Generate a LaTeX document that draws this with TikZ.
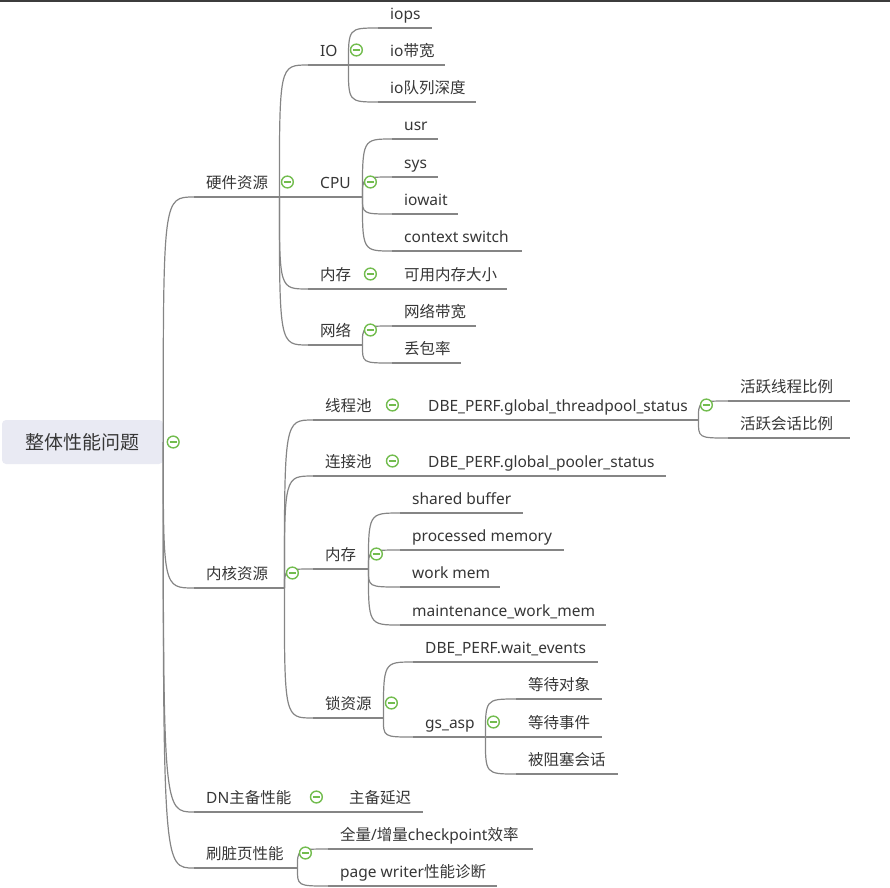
\documentclass[tikz,border=0pt]{standalone}
\usepackage{fontspec}
\setmainfont{Noto Sans}
\newfontfamily\cjkfont{Noto Sans CJK SC}
\newcommand\zh[1]{{\cjkfont #1}}
\usetikzlibrary{calc}
\definecolor{txt}{HTML}{363636}
\definecolor{ln}{HTML}{858585}
\definecolor{grn}{HTML}{72BC4E}
\definecolor{rootfill}{HTML}{E9EAF3}
\definecolor{topbar}{HTML}{3C3C3C}
\tikzset{
  topic/.style={inner sep=0pt, text height=11pt, text depth=8pt, font=\fontsize{15.5}{18}\selectfont, text=txt},
  line/.style={draw=ln, line width=1.2pt},
  foldicon/.style={draw=grn, line width=1.4pt},
  rootbox/.style={fill=rootfill, rounded corners=4pt, minimum width=161pt, minimum height=44pt, inner sep=0pt, font=\fontsize{19}{22}\selectfont, text=txt},
}
\newcommand\topic[5]{%
  \pgfmathsetmacro\tw{#3-#2}%
  \node[topic, anchor=south west] (#1) at (#2,#4) {\makebox[\tw pt][l]{\hspace{12pt}#5}};%
  \draw[line] (#1.south west) -- (#1.south east);%
}
\newcommand\link[2]{\draw[line] (#1.south east) .. controls (#1.south east |- #2.south west) .. (#2.south west);}
\newcommand\rootlink[1]{\draw[line] (root.east) .. controls (root.east |- #1.south west) .. (#1.south west);}
\newcommand\fold[1]{%
  \draw[foldicon, fill=white] ($(#1.south east)+(8,-15)$) circle (5.9);%
  \draw[foldicon] ($(#1.south east)+(4.5,-15)$) -- ($(#1.south east)+(11.5,-15)$);}
\begin{document}
\begin{tikzpicture}[x=1pt, y=-1pt]
\useasboundingbox (0,0) rectangle (890,887);
\fill[topbar] (0,0) rectangle (890,2);
% root
\node[rootbox] (root) at (82.5,442) {\zh{整体性能问题}};
% level 1
\topic{hw}{194}{279}{197}{\zh{硬件资源}}
\topic{kn}{194}{284}{588}{\zh{内核资源}}
\topic{dn}{194}{308}{812}{DN\zh{主备性能}}
\topic{fl}{194}{297}{868}{\zh{刷脏页性能}}
% hardware
\topic{io}{308}{348}{65}{IO}
\topic{cpu}{308}{362}{197}{CPU}
\topic{hmem}{308}{362}{289}{\zh{内存}}
\topic{net}{308}{362}{345}{\zh{网络}}
\topic{iops}{378}{432}{28}{iops}
\topic{iobw}{378}{445}{65}{io\zh{带宽}}
\topic{ioq}{378}{476}{102}{io\zh{队列深度}}
\topic{usr}{392}{438}{139}{usr}
\topic{sys}{392}{438}{177}{sys}
\topic{iowait}{392}{458}{214}{iowait}
\topic{ctx}{392}{522}{251}{context switch}
\topic{avail}{392}{507}{289}{\zh{可用内存大小}}
\topic{nbw}{392}{476}{326}{\zh{网络带宽}}
\topic{loss}{392}{461}{363}{\zh{丢包率}}
% kernel
\topic{tp}{313}{384}{420}{\zh{线程池}}
\topic{cp}{313}{384}{476}{\zh{连接池}}
\topic{kmem}{313}{368}{569}{\zh{内存}}
\topic{lock}{313}{383}{718}{\zh{锁资源}}
\topic{tps}{416}{698}{420}{DBE\_PERF.global\_threadpool\_status}
\topic{act1}{728}{850}{401}{\zh{活跃线程比例}}
\topic{act2}{728}{850}{438}{\zh{活跃会话比例}}
\topic{cps}{416}{666}{476}{DBE\_PERF.global\_pooler\_status}
\topic{sb}{400}{523}{513}{shared buffer}
\topic{pm}{400}{564}{550}{processed memory}
\topic{wm}{400}{500}{587}{work mem}
\topic{mwm}{400}{606}{625}{maintenance\_work\_mem}
\topic{we}{413}{598}{662}{DBE\_PERF.wait\_events}
\topic{gs}{413}{485}{737}{gs\_asp}
\topic{wo}{516}{602}{699}{\zh{等待对象}}
\topic{wev}{516}{602}{737}{\zh{等待事件}}
\topic{blk}{516}{618}{774}{\zh{被阻塞会话}}
% DN and flush
\topic{delay}{337}{423}{812}{\zh{主备延迟}}
\topic{ck}{328}{533}{849}{\zh{全量}/\zh{增量}checkpoint\zh{效率}}
\topic{pw}{328}{497}{886}{page writer\zh{性能诊断}}
% connectors
\rootlink{hw}\rootlink{kn}\rootlink{dn}\rootlink{fl}
\link{hw}{io}\link{hw}{cpu}\link{hw}{hmem}\link{hw}{net}
\link{io}{iops}\link{io}{iobw}\link{io}{ioq}
\link{cpu}{usr}\link{cpu}{sys}\link{cpu}{iowait}\link{cpu}{ctx}
\link{hmem}{avail}
\link{net}{nbw}\link{net}{loss}
\link{kn}{tp}\link{kn}{cp}\link{kn}{kmem}\link{kn}{lock}
\link{tp}{tps}\link{tps}{act1}\link{tps}{act2}
\link{cp}{cps}
\link{kmem}{sb}\link{kmem}{pm}\link{kmem}{wm}\link{kmem}{mwm}
\link{lock}{we}\link{lock}{gs}
\link{gs}{wo}\link{gs}{wev}\link{gs}{blk}
\link{dn}{delay}
\link{fl}{ck}\link{fl}{pw}
% fold icons
\draw[foldicon, fill=white] ($(root.east)+(10,0)$) circle (5.9);
\draw[foldicon] ($(root.east)+(6.5,0)$) -- ($(root.east)+(13.5,0)$);
\fold{hw}\fold{kn}\fold{dn}\fold{fl}
\fold{io}\fold{cpu}\fold{hmem}\fold{net}
\fold{tp}\fold{cp}\fold{kmem}\fold{lock}\fold{tps}\fold{gs}
\end{tikzpicture}
\end{document}
